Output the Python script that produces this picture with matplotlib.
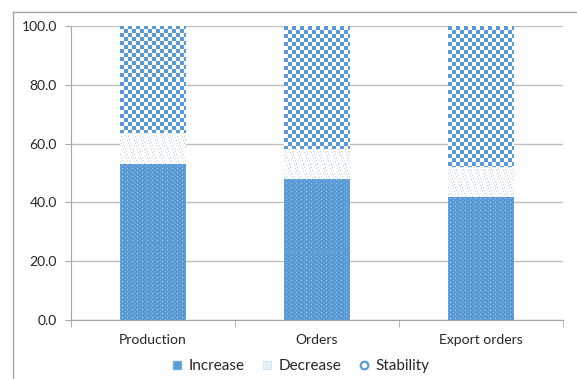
import numpy as np
import matplotlib.pyplot as plt
from matplotlib.lines import Line2D

plt.rcParams['font.family'] = ['Lato', 'DejaVu Sans']

categories = ['Production', 'Orders', 'Export orders']
increase = [53.2, 48.0, 41.7]
decrease = [10.4, 10.3, 10.4]
stability = [36.4, 41.7, 47.9]

BLUE = np.array([91, 155, 213]) / 255.0
WHITE = np.array([1.0, 1.0, 1.0])


def texture(kind, h, w):
    """Pixel fill patterns for the stacked segments."""
    yy, xx = np.mgrid[0:h, 0:w]
    img = np.ones((h, w, 3))
    if kind == 'increase':
        img[:] = BLUE
        dots = (yy % 4 == 1) & (xx % 5 == 2)
        img[dots] = BLUE * 0.55 + WHITE * 0.45
        dots2 = (yy % 4 == 3) & (xx % 5 == 0)
        img[dots2] = BLUE * 0.8 + WHITE * 0.2
    elif kind == 'stability':
        s = 4
        check = ((xx // s + yy // s) % 2) == 0
        img[check] = BLUE
    else:
        light = BLUE * 0.45 + WHITE * 0.55
        pale = BLUE * 0.25 + WHITE * 0.75
        m1 = ((xx + 2 * yy) % 7 == 0) & (yy % 3 != 2)
        m2 = ((xx + 2 * yy) % 7 == 3) & (yy % 4 == 0)
        img[m1] = light
        img[m2] = pale
    return img


W, H, DPI = 577, 379, 100
fig = plt.figure(figsize=(W / DPI, H / DPI), dpi=DPI)
ax = fig.add_axes([71 / W, (H - 320) / H, 492 / W, 294 / H])

x = np.arange(len(categories))
width = 0.4

# grid and axes styling
ax.set_yticks(np.arange(0, 101, 20))
ax.set_yticklabels([f'{v:.1f}' for v in np.arange(0, 101, 20)])
ax.yaxis.grid(True, color='#BFBFBF', linewidth=1)
ax.set_axisbelow(True)
for side in ('top', 'right'):
    ax.spines[side].set_visible(False)
ax.spines['left'].set_color('#A6A6A6')
ax.spines['bottom'].set_color('#A6A6A6')
ax.tick_params(axis='y', length=4, color='#A6A6A6', labelsize=10,
               labelcolor='#262626', pad=6)
ax.set_xticks(x)
ax.set_xticklabels(categories)
ax.set_xticks(np.arange(-0.5, len(categories), 1), minor=True)
ax.tick_params(axis='x', which='major', length=0, labelsize=10,
               labelcolor='#262626', pad=10)
ax.tick_params(axis='x', which='minor', length=5, color='#A6A6A6')

# stacked bars with pixel textures
px_per_x = 492 / 3.0
px_per_y = 294 / 100.0
series = [('increase', increase), ('decrease', decrease), ('stability', stability)]
bottoms = np.zeros(len(categories))
for kind, vals in series:
    for i, v in enumerate(vals):
        x0, x1 = x[i] - width / 2, x[i] + width / 2
        y0, y1 = bottoms[i], bottoms[i] + v
        bar = ax.bar(x[i], v, width, bottom=y0, color='none', linewidth=0)[0]
        h = max(int(round(v * px_per_y)), 1)
        w = int(round(width * px_per_x))
        im = ax.imshow(texture(kind, h, w), extent=(x0, x1, y0, y1),
                       interpolation='nearest', aspect='auto', zorder=2)
        im.set_clip_path(bar)
    bottoms += np.array(vals)
ax.set_xlim(-0.5, len(categories) - 0.5)
ax.set_ylim(0, 100)

# legend
handles = [
    Line2D([], [], linestyle='none', marker='s', markersize=6,
           markerfacecolor=BLUE, markeredgecolor=BLUE * 0.85 + WHITE * 0.15),
    Line2D([], [], linestyle='none', marker='s', markersize=6,
           markerfacecolor=BLUE * 0.15 + WHITE * 0.85,
           markeredgecolor=BLUE * 0.3 + WHITE * 0.7, markeredgewidth=0.6),
    Line2D([], [], linestyle='none', marker='o', markersize=5.5,
           markerfacecolor='white', markeredgecolor=BLUE, markeredgewidth=1.6),
]
fig.legend(handles, ['Increase', 'Decrease', 'Stability'], loc='center',
           bbox_to_anchor=(301 / W, (H - 366) / H), ncol=3, frameon=False,
           fontsize=11, handlelength=0.6, handletextpad=0.45,
           columnspacing=1.2, labelcolor='#262626')

# outer chart frame
fig.add_artist(Line2D([13 / W, 13 / W], [0, (H - 12) / H], color='#A6A6A6',
                      linewidth=1, transform=fig.transFigure))
fig.add_artist(Line2D([13 / W, 1], [(H - 12) / H, (H - 12) / H], color='#A6A6A6',
                      linewidth=1, transform=fig.transFigure))

fig.savefig('out.png', dpi=DPI)
